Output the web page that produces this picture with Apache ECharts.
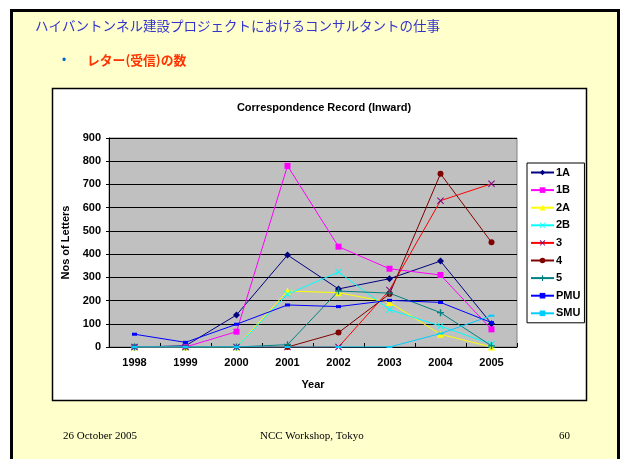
<!DOCTYPE html>
<html>
<head>
<meta charset="utf-8">
<script src="https://cdn.jsdelivr.net/npm/echarts@6/dist/echarts.min.js"></script>
<style>
html,body{margin:0;padding:0;background:#ffffff;}
#c{width:622px;height:459px;}
</style>
</head>
<body>
<div id="c"></div>
<script>
var years = ['1998','1999','2000','2001','2002','2003','2004','2005'];
var yTicks = [0,100,200,300,400,500,600,700,800,900];
var s1A  = [0, 5, 138, 396, 250, 294, 370, 100];
var s1B  = [0, 0, 66, 780, 432, 337, 310, 76];
var s2A  = [0, 0, 0, 241, 234, 192, 55, 0];
var s2B  = [0, 0, 0, 227, 323, 161, 90, 12];
var s3   = [0, 0, 0, 0, 0, 245, 630, 703];
var s4   = [null, null, null, 0, 62, 228, 746, 451];
var s5   = [0, 0, 0, 10, 241, 232, 148, 5];
var sPMU = [55, 20, 98, 181, 174, 201, 192, 105];
var sSMU = [0, 0, 0, 0, 0, 0, 58, 135];

var FONT = '"Liberation Sans", Arial, sans-serif';
var xSym = 'path://M0,1L1,0L5,4L9,0L10,1L6,5L10,9L9,10L5,6L1,10L0,9L4,5Z';
var plusSym = 'path://M4,0H6V4H10V6H6V10H4V6H0V4H4Z';

function mk(name, data, lineColor, markColor, symbol, size) {
  return {
    name: name, type: 'line', data: data,
    symbol: symbol, symbolSize: size, showSymbol: true,
    lineStyle: {color: lineColor, width: 1},
    itemStyle: {color: markColor},
    emphasis: {disabled: true},
    animation: false,
    connectNulls: false
  };
}

var chart = echarts.init(document.getElementById('c'), null, {renderer: 'canvas'});
chart.setOption({
  animation: false,
  graphic: [
    {type: 'rect', z: -10, shape: {x: 11.5, y: 10.5, width: 607, height: 470},
     style: {fill: '#ffffcc', stroke: '#000000', lineWidth: 3}},
    {type: 'rect', z: -9, shape: {x: 52.5, y: 88.5, width: 534, height: 312},
     style: {fill: '#ffffff', stroke: '#000000', lineWidth: 1.5}},
    {type: 'text', z: 5, left: 35, top: 19,
     style: {text: 'ハイバントンネル建設プロジェクトにおけるコンサルタントの仕事',
       fill: '#3333cc', font: '13.5px "Noto Sans CJK JP", sans-serif'}},
    {type: 'text', z: 5, left: 62, top: 55,
     style: {text: '•', fill: '#0066cc', font: '12px "Liberation Sans", sans-serif'}},
    {type: 'text', z: 5, left: 87, top: 54,
     style: {text: 'レター(受信)の数', fill: '#ff3300',
       font: 'bold 12.8px "Noto Sans CJK JP", sans-serif'}},
    {type: 'text', z: 5, left: 63, top: 431,
     style: {text: '26 October 2005', fill: '#000000', font: '11px "Liberation Serif", serif'}},
    {type: 'text', z: 5, left: 260, top: 431,
     style: {text: 'NCC Workshop, Tokyo', fill: '#000000', font: '11px "Liberation Serif", serif'}},
    {type: 'text', z: 5, left: 559, top: 431,
     style: {text: '60', fill: '#000000', font: '11px "Liberation Serif", serif'}}
  ],
  title: {
    text: 'Correspondence Record (Inward)',
    left: 319, textAlign: 'center', top: 97,
    textStyle: {fontFamily: FONT, fontSize: 11, fontWeight: 'bold', color: '#000'}
  },
  grid: {
    left: 109, top: 138, width: 408, height: 209,
    show: true, backgroundColor: '#c0c0c0', borderColor: '#808080', borderWidth: 1,
    containLabel: false
  },
  legend: {
    orient: 'vertical', left: 527, top: 163,
    backgroundColor: '#ffffff', borderColor: '#000000', borderWidth: 1,
    padding: [4, 4, 4, 3], itemGap: 6.6, itemWidth: 23, itemHeight: 7,
    textStyle: {fontFamily: FONT, fontSize: 11, lineHeight: 11, fontWeight: 'bold', color: '#000', padding: [0,0,0,-3]},
    data: ['1A','1B','2A','2B','3','4','5','PMU','SMU']
  },
  xAxis: {
    type: 'category', data: years, boundaryGap: true,
    name: 'Year', nameLocation: 'middle', nameGap: 32,
    nameTextStyle: {fontFamily: FONT, fontSize: 11, fontWeight: 'bold', color: '#000'},
    axisLine: {lineStyle: {color: '#000', width: 1}},
    axisTick: {show: true, inside: true, length: 4, alignWithLabel: false, lineStyle: {color: '#000'}},
    axisLabel: {fontFamily: FONT, fontSize: 11, fontWeight: 'bold', color: '#000', margin: 10},
    splitLine: {show: false}
  },
  yAxis: {
    type: 'value', min: 0, max: 900, interval: 100,
    name: 'Nos of Letters', nameLocation: 'middle', nameGap: 33,
    nameTextStyle: {fontFamily: FONT, fontSize: 11, fontWeight: 'bold', color: '#000'},
    axisLine: {show: true, lineStyle: {color: '#000', width: 1}},
    axisTick: {show: true, length: 3, lineStyle: {color: '#000'}},
    axisLabel: {fontFamily: FONT, fontSize: 11, fontWeight: 'bold', color: '#000', margin: 8,
      formatter: function (v) { return yTicks.indexOf(v) >= 0 ? String(v) : ''; }},
    splitLine: {show: true, lineStyle: {color: '#000000', width: 1}}
  },
  series: [
    mk('1A', s1A, '#000080', '#000080', 'diamond', 7),
    mk('1B', s1B, '#ff00ff', '#ff00ff', 'rect', 6),
    mk('2A', s2A, '#ffff00', '#ffff00', 'triangle', 7),
    mk('2B', s2B, '#00ffff', '#00ffff', xSym, 7),
    mk('3', s3, '#ff0000', '#800080', xSym, 7),
    mk('4', s4, '#800000', '#800000', 'circle', 6),
    mk('5', s5, '#008080', '#008080', plusSym, 7),
    mk('PMU', sPMU, '#0000ff', '#0000ff', 'rect', [5, 3]),
    mk('SMU', sSMU, '#00ccff', '#00ccff', 'rect', [6, 2])
  ]
});
</script>
</body>
</html>
